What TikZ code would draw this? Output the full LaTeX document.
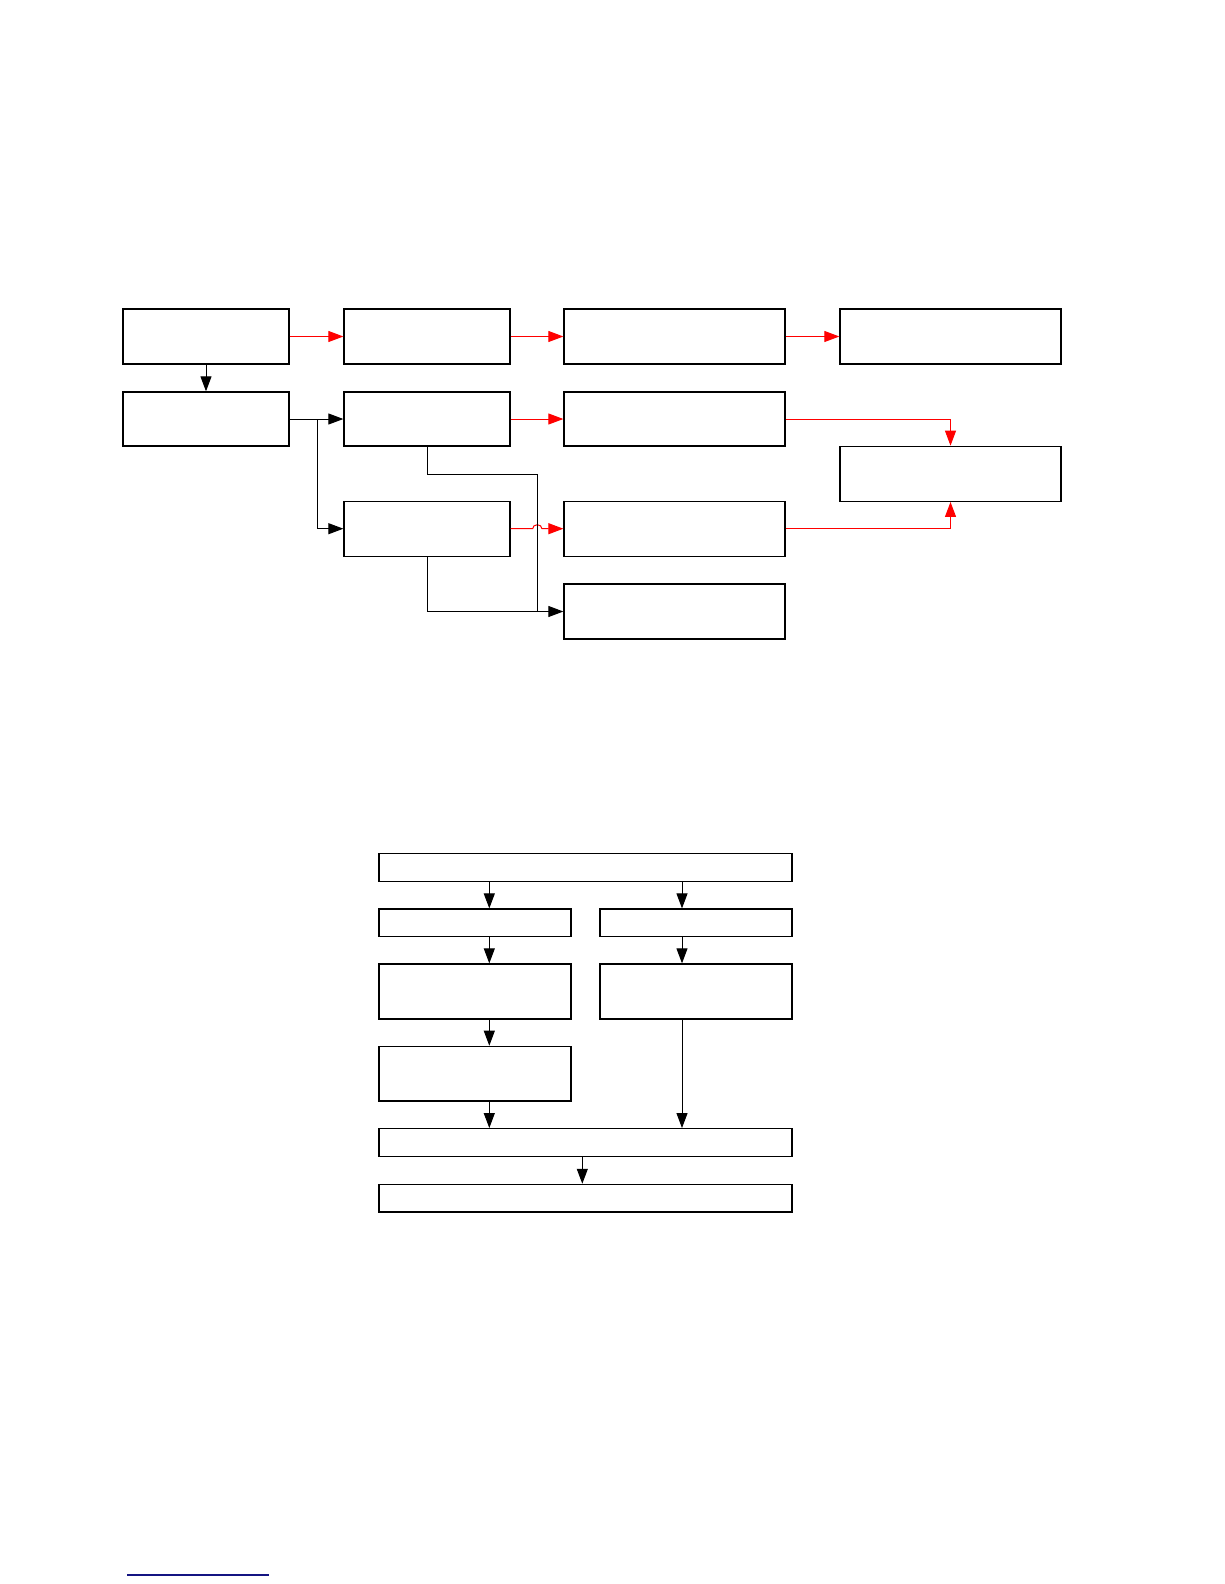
\documentclass[tikz,border=0pt]{standalone}
\usetikzlibrary{arrows.meta}
\begin{document}
\begin{tikzpicture}[x=1pt,y=-1pt,
  box/.style={draw=black,line width=1.3pt,rectangle,inner sep=0pt,fill=white},
  conn/.style={draw=black,line width=1pt},
  arr/.style={conn,-{Triangle[length=15pt,width=11pt]}},
  rconn/.style={draw=red,line width=1pt},
  rarr/.style={rconn,-{Triangle[length=15pt,width=11pt]}}]
\useasboundingbox (0,0) rectangle (1224,1584);
\fill[white] (0,0) rectangle (1224,1584);
% ---------- top diagram ----------
\node[box,minimum width=166pt,minimum height=55pt] (A)  at (206,336.5) {};
\node[box,minimum width=166pt,minimum height=55pt] (B)  at (427,336.5) {};
\node[box,minimum width=221pt,minimum height=55pt] (C)  at (674.5,336.5) {};
\node[box,minimum width=221pt,minimum height=55pt] (D)  at (950.5,336.5) {};
\node[box,minimum width=166pt,minimum height=54pt] (A2) at (206,419) {};
\node[box,minimum width=166pt,minimum height=54pt] (B2) at (427,419) {};
\node[box,minimum width=221pt,minimum height=54pt] (C2) at (674.5,419) {};
\node[box,minimum width=221pt,minimum height=55pt] (R)  at (950.5,473.8) {};
\node[box,minimum width=166pt,minimum height=55pt] (B3) at (427,528.7) {};
\node[box,minimum width=221pt,minimum height=55pt] (C3) at (674.5,528.7) {};
\node[box,minimum width=221pt,minimum height=55pt] (C4) at (674.5,611.5) {};
\coordinate (j1) at (317,419);
\coordinate (k1) at (537.3,474);
\coordinate (k2) at (537.3,611.5);
% red flows
\draw[rarr] (A) -- (B);
\draw[rarr] (B) -- (C);
\draw[rarr] (C) -- (D);
\draw[rarr] (B2) -- (C2);
\draw[rarr] (C2.east) -| (R.north);
\draw[rarr] (C3.east) -| (R.south);
\draw[rarr] (B3.east) -- (532.6,528.7) arc[start angle=180,end angle=360,x radius=4.7,y radius=4] -- (C3.west);
% black flows
\draw[arr] (A) -- (A2);
\draw[arr] (A2) -- (B2);
\draw[arr] (j1) |- (B3.west);
\draw[conn] (B2.south) |- (k1) -- (k2);
\draw[conn] (B3.south) |- (k2);
\draw[arr] (k2) -- (C4.west);
% ---------- bottom diagram ----------
\node[box,minimum width=413pt,minimum height=27.6pt] (T)  at (585.5,867.5) {};
\node[box,minimum width=192pt,minimum height=27.3pt] (L1) at (475,922.7) {};
\node[box,minimum width=192pt,minimum height=27.3pt] (R1) at (696,922.7) {};
\node[box,minimum width=192pt,minimum height=55pt]   (L2) at (475,991.5) {};
\node[box,minimum width=192pt,minimum height=55pt]   (R2) at (696,991.5) {};
\node[box,minimum width=192pt,minimum height=54.7pt] (L3) at (475,1073.7) {};
\node[box,minimum width=413pt,minimum height=27.6pt] (M)  at (585.5,1142.5) {};
\node[box,minimum width=413pt,minimum height=27.6pt] (N)  at (585.5,1198.2) {};
\coordinate (xl) at (489.3,0);
\coordinate (xr) at (682,0);
\coordinate (xm) at (582.3,0);
\draw[arr] (xl |- T.south) -- (xl |- L1.north);
\draw[arr] (xr |- T.south) -- (xr |- R1.north);
\draw[arr] (xl |- L1.south) -- (xl |- L2.north);
\draw[arr] (xr |- R1.south) -- (xr |- R2.north);
\draw[arr] (xl |- L2.south) -- (xl |- L3.north);
\draw[arr] (xl |- L3.south) -- (xl |- M.north);
\draw[arr] (xr |- R2.south) -- (xr |- M.north);
\draw[arr] (xm |- M.south) -- (xm |- N.north);
% footer rule
\draw[draw={rgb,255:red,20;green,20;blue,130},line width=1.5pt] (127,1575) -- (269,1575);
\end{tikzpicture}
\end{document}
